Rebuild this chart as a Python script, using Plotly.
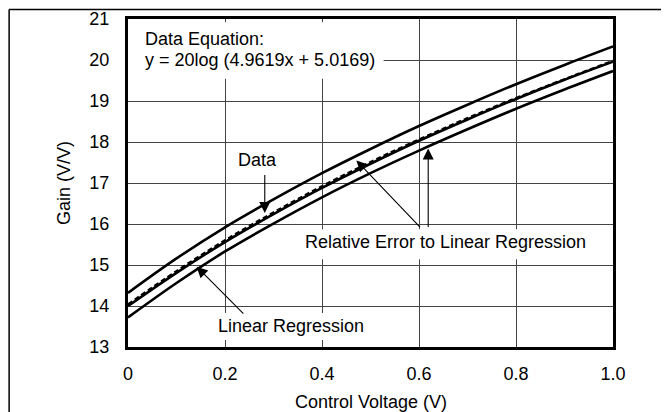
import plotly.graph_objects as go

# Control voltage sample points (V)
control_v = [0.0, 0.1, 0.2, 0.3, 0.4, 0.5, 0.6, 0.7, 0.8, 0.9, 1.0]
upper_err = [14.32, 15.16, 15.92, 16.60, 17.24, 17.83, 18.39, 18.91, 19.41, 19.88, 20.33]
data_gain = [14.04, 14.85, 15.60, 16.28, 16.92, 17.51, 18.06, 18.58, 19.07, 19.53, 19.98]
lin_reg = [14.00, 14.81, 15.56, 16.24, 16.88, 17.47, 18.03, 18.55, 19.05, 19.52, 19.96]
lower_err = [13.72, 14.56, 15.33, 16.01, 16.65, 17.24, 17.79, 18.31, 18.81, 19.28, 19.73]

x_ticks = [0, 0.2, 0.4, 0.6, 0.8, 1.0]
x_tick_text = ["0", "0.2", "0.4", "0.6", "0.8", "1.0"]
y_ticks = [13, 14, 15, 16, 17, 18, 19, 20, 21]

FONT = "Liberation Sans, Arial, Helvetica, sans-serif"
FS = 18

fig = go.Figure()
for ys, dash, w in [(upper_err, "solid", 2.6), (lower_err, "solid", 2.6),
                    (lin_reg, "solid", 2.6), (data_gain, "5px,3px", 2.4)]:
    fig.add_trace(go.Scatter(x=control_v, y=ys, mode="lines",
                             line=dict(color="black", width=w, dash=dash, shape="spline"),
                             showlegend=False, hoverinfo="skip"))

shapes = [
    # white boxes behind labels (hide gridlines)
    dict(type="rect", xref="x", yref="y", x0=0.0, x1=0.527, y0=19.54, y1=20.92,
         fillcolor="white", line=dict(width=0), layer="between"),
    dict(type="rect", xref="x", yref="y", x0=0.354, x1=0.95, y0=15.14, y1=15.87,
         fillcolor="white", line=dict(width=0), layer="between"),
    dict(type="rect", xref="x", yref="y", x0=0.18, x1=0.5, y0=13.17, y1=13.83,
         fillcolor="white", line=dict(width=0), layer="between"),
    # page frame lines
    dict(type="line", xref="paper", yref="paper", x0=-0.2451, x1=1.12, y0=1.0289, y1=1.0289,
         line=dict(color="black", width=1.5)),
    dict(type="line", xref="paper", yref="paper", x0=-0.2451, x1=-0.2451, y0=1.0289, y1=-0.21,
         line=dict(color="black", width=1.5)),
]

ann = []
def label(text, x, y, xanchor="left"):
    ann.append(dict(text=text, x=x, y=y, xref="x", yref="y", showarrow=False,
                    xanchor=xanchor, yanchor="middle",
                    font=dict(family=FONT, size=FS, color="black")))

def arrow(tx, ty, sx, sy):
    ann.append(dict(text="", x=tx, y=ty, ax=sx, ay=sy, xref="x", yref="y",
                    axref="x", ayref="y", showarrow=True, arrowhead=2,
                    arrowsize=2.0, arrowwidth=1.1, arrowcolor="black"))

label("Data Equation:", 0.031, 20.51)
label("y = 20log (4.9619x + 5.0169)", 0.031, 19.99)
label("Data", 0.268, 17.56, "center")
label("Relative Error to Linear Regression", 0.36, 15.57)
label("Linear Regression", 0.336, 13.52, "center")

arrow(0.282, 16.27, 0.282, 17.23)
arrow(0.1415, 14.96, 0.241, 13.78)
arrow(0.471, 17.55, 0.605, 15.89)
arrow(0.619, 17.84, 0.619, 15.89)

# axis titles
ann.append(dict(text="Control Voltage (V)", x=0.5, y=-0.1674, xref="paper", yref="paper",
                showarrow=False, xanchor="center", yanchor="middle",
                font=dict(family=FONT, size=FS, color="black")))
ann.append(dict(text="Gain (V/V)", x=-0.1318, y=0.5, xref="paper", yref="paper",
                showarrow=False, xanchor="center", yanchor="middle", textangle=-90,
                font=dict(family=FONT, size=FS, color="black")))

axis_common = dict(showgrid=True, gridcolor="#444444", gridwidth=1.1, zeroline=False,
                   showline=True, linecolor="black", linewidth=3, mirror=True,
                   automargin=False,
                   ticks="", tickfont=dict(family=FONT, size=FS, color="black"))

fig.update_layout(
    width=661, height=404,
    margin=dict(l=120, r=55.5, t=10.5, b=65),
    paper_bgcolor="white", plot_bgcolor="white",
    xaxis=dict(range=[0, 1], tickvals=x_ticks, ticktext=x_tick_text,
               ticklabelstandoff=8, **axis_common),
    yaxis=dict(range=[13, 21], tickvals=y_ticks,
               ticklabelstandoff=12, **axis_common),
    shapes=shapes, annotations=ann,
)

fig.write_html("out.html")
